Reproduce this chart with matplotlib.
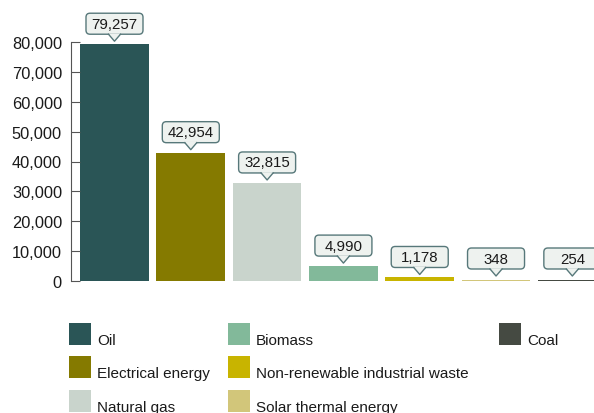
import numpy as np
import matplotlib
matplotlib.use("Agg")
import matplotlib.pyplot as plt
import matplotlib.transforms as mtransforms
from matplotlib.patches import FancyBboxPatch, Polygon, Rectangle

plt.rcParams['font.family'] = ['Liberation Sans', 'DejaVu Sans']

categories = ["Oil", "Electrical energy", "Natural gas", "Biomass",
              "Non-renewable industrial waste", "Solar thermal energy", "Coal"]
values = [79257, 42954, 32815, 4990, 1178, 348, 254]
colors = ["#2a5556", "#857a00", "#c9d4cc", "#82b99a", "#c8b400", "#d2c67a", "#454a42"]
yticks = [0, 10000, 20000, 30000, 40000, 50000, 60000, 70000, 80000]

W, H = 594, 414
fig = plt.figure(figsize=(W / 100, H / 100), dpi=100)

# axes reaches past the right edge, the last bar is cut off like in the original
ax = fig.add_axes([71 / W, (H - 282) / H, (610.5 - 71) / W, 239 / H])
x = np.arange(len(values))
ax.bar(x, values, width=0.9, color=colors)
ax.set_xlim(-0.57, 6.5)
ax.set_ylim(0, 80000)
ax.set_yticks(yticks)
ax.set_yticklabels(["{:,}".format(v) for v in yticks])
ax.set_xticks([])
for s in ["top", "right", "bottom"]:
    ax.spines[s].set_visible(False)
ax.spines["left"].set_color("#555555")
ax.tick_params(axis="y", direction="in", length=6.5, color="#555555",
               labelsize=11.8, labelcolor="#1a1a1a", pad=6.5)

# callouts with a little pointer
box_face = "#eef2ef"
box_edge = "#57787a"
min_anchor = 2 * 80000 / 239
for i, v in enumerate(values):
    anchor = max(v, min_anchor)
    t = mtransforms.Affine2D() + mtransforms.ScaledTranslation(i, anchor, ax.transData)
    tip = 3
    bh = 21
    bw = 57
    b0 = tip + 7
    box = FancyBboxPatch((-bw / 2, b0), bw, bh, boxstyle="round,pad=0,rounding_size=4",
                         facecolor=box_face, edgecolor=box_edge, linewidth=1,
                         transform=t, clip_on=False, zorder=5)
    fig.add_artist(box)
    tri = Polygon([(-6, b0 + 0.8), (0, tip), (6, b0 + 0.8)], closed=True,
                  facecolor=box_face, edgecolor="none", transform=t,
                  clip_on=False, zorder=6)
    fig.add_artist(tri)
    edge = plt.Line2D([-6, 0, 6], [b0, tip, b0], color=box_edge, linewidth=1,
                      transform=t, clip_on=False, zorder=7)
    fig.add_artist(edge)
    fig.text(0, b0 + bh / 2, "{:,}".format(v), transform=t, ha="center",
             va="center", fontsize=10.8, color="#1a1a1a", zorder=8)

# legend in three columns
col_x = [69, 228, 499]
row_y = [324, 357, 391]
slots = [(0, 0), (0, 1), (0, 2), (1, 0), (1, 1), (1, 2), (2, 0)]
for (c, r), name, col in zip(slots, categories, colors):
    sx, sy = col_x[c], row_y[r]
    fig.add_artist(Rectangle((sx / W, (H - sy - 22) / H), 22 / W, 22 / H,
                             transform=fig.transFigure, facecolor=col, edgecolor="none"))
    fig.text((sx + 28) / W, (H - sy - 21.5) / H, name, fontsize=11,
             color="#1a1a1a", ha="left", va="baseline")

fig.savefig("out.png", dpi=100)
